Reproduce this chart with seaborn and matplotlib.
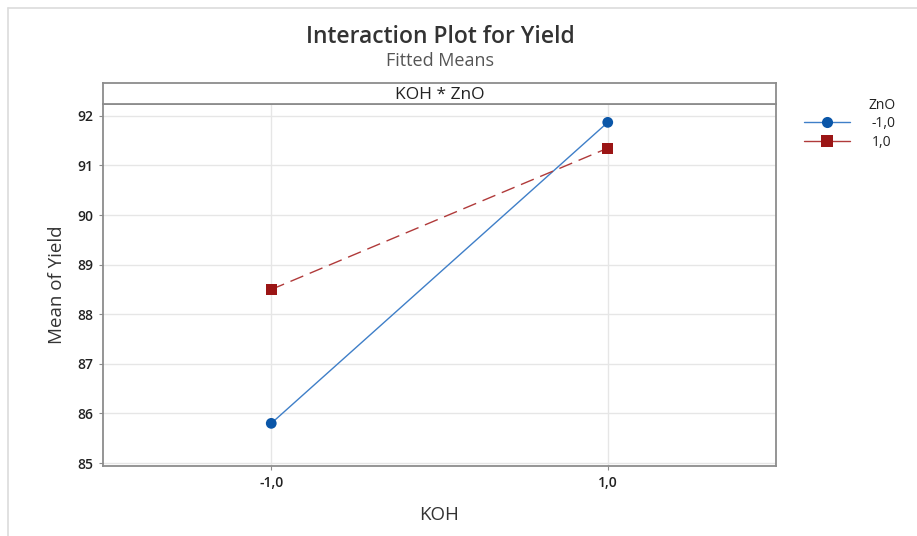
import matplotlib
matplotlib.use("Agg")
import matplotlib.pyplot as plt
from matplotlib.lines import Line2D
import seaborn as sns
import pandas as pd

# Fitted means of Yield for each KOH x ZnO combination
koh_levels = [-1.0, 1.0]
zno_labels = ["-1,0", "1,0"]
yield_zno_low = [85.80, 91.87]
yield_zno_high = [88.50, 91.35]
y_ticks = [85, 86, 87, 88, 89, 90, 91, 92]
x_tick_labels = ["-1,0", "1,0"]

df = pd.DataFrame({
    "KOH": koh_levels * 2,
    "Yield": yield_zno_low + yield_zno_high,
    "ZnO": [zno_labels[0]] * 2 + [zno_labels[1]] * 2,
})

sns.set_theme(style="white")
plt.rcParams["font.family"] = ["Open Sans", "DejaVu Sans"]

W, H = 917, 536
fig = plt.figure(figsize=(W / 100, H / 100), dpi=100)

blue = "#0a56a8"
red = "#9b1515"
blue_line = "#3f7fc8"
red_line = "#b03a3a"
palette = {zno_labels[0]: blue_line, zno_labels[1]: red_line}

def fx(px):
    return px / W

def fy(py):
    return 1 - py / H

ax_left, ax_right, ax_top, ax_bottom = 103, 776, 104, 466
ax = fig.add_axes([fx(ax_left), fy(ax_bottom), fx(ax_right - ax_left), fy(ax_top) - fy(ax_bottom)])

sns.lineplot(data=df, x="KOH", y="Yield", hue="ZnO", style="ZnO",
             palette=palette, markers=False,
             dashes={zno_labels[0]: "", zno_labels[1]: (10, 5)},
             linewidth=1.0, ax=ax, legend=False)
# Mean markers on top of the connecting lines
sns.scatterplot(data=df, x="KOH", y="Yield", hue="ZnO", style="ZnO",
                palette={zno_labels[0]: blue, zno_labels[1]: red},
                markers={zno_labels[0]: "o", zno_labels[1]: "s"},
                s=60, linewidth=0, ax=ax, legend=False, zorder=3)

ax.set_xlim(-2.0, 2.0)
ax.set_ylim(84.94, 92.24)
ax.set_xticks(koh_levels)
ax.set_xticklabels(x_tick_labels)
ax.set_yticks(y_ticks)
ax.grid(True, color="#e6e6e6", linewidth=1.0)
ax.set_axisbelow(True)
for s in ax.spines.values():
    s.set_color("#8c8c8c")
    s.set_linewidth(1.3)
ax.tick_params(axis="both", which="both", length=3, width=0.8, color="#8c8c8c",
               labelsize=10, labelcolor="#222222", bottom=True, left=True, pad=4)
for lbl in ax.get_xticklabels() + ax.get_yticklabels():
    lbl.set_fontweight("semibold")
ax.set_xlabel("KOH", fontsize=13.5, color="#333333", labelpad=12)
ax.set_ylabel("Mean of Yield", fontsize=13.5, color="#333333", labelpad=8)

# Panel strip with the interaction term
strip = fig.add_axes([fx(ax_left), fy(ax_top), fx(ax_right - ax_left), fy(83) - fy(ax_top)])
strip.set_xticks([])
strip.set_yticks([])
strip.set_facecolor("white")
for s in strip.spines.values():
    s.set_color("#8c8c8c")
    s.set_linewidth(1.3)
strip.text(0.5, 0.45, "KOH * ZnO", ha="center", va="center", fontsize=12.5,
           color="#222222", transform=strip.transAxes)

# Titles
fig.text(fx(440), fy(37), "Interaction Plot for Yield", ha="center", va="center",
         fontsize=16.5, fontweight="semibold", color="#333333")
fig.text(fx(440), fy(61), "Fitted Means", ha="center", va="center",
         fontsize=13, color="#555555")

# Legend
handles = [
    Line2D([0], [0], color=blue_line, marker="o", markersize=8, linewidth=1.0,
           markeredgewidth=0, markerfacecolor=blue),
    Line2D([0], [0], color=red_line, marker="s", markersize=8, linewidth=1.0,
           markeredgewidth=0, markerfacecolor=red),
]
leg = fig.legend(handles, zno_labels, title="ZnO", loc="upper left",
                 bbox_to_anchor=(fx(794), fy(88)), frameon=False, fontsize=10,
                 title_fontsize=10, handlelength=3.3, handletextpad=1.6,
                 labelspacing=0.25, alignment="right", borderpad=0.2)
for t in leg.get_texts():
    t.set_ha("right")
    t.set_color("#222222")
leg.get_title().set_color("#222222")

# Outer frame lines
fig.add_artist(Line2D([fx(8), 1], [fy(8), fy(8)], color="#dcdcdc", linewidth=1.2))
fig.add_artist(Line2D([fx(8), fx(8)], [fy(8), 0], color="#dcdcdc", linewidth=1.2))

fig.savefig("out.png", dpi=100)
